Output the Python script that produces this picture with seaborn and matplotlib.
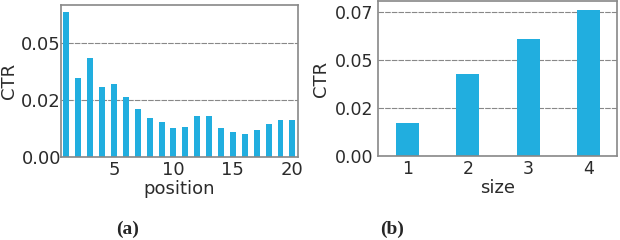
import numpy as np
import pandas as pd
import matplotlib
matplotlib.use("Agg")
import matplotlib.pyplot as plt
import seaborn as sns

# CTR by position
positions = list(range(1, 21))
ctr_position = [0.0632, 0.0344, 0.0432, 0.0305, 0.0318, 0.0262, 0.0209, 0.0170,
                0.0153, 0.0126, 0.0131, 0.0179, 0.0179, 0.0126, 0.0109, 0.0100,
                0.0118, 0.0144, 0.0161, 0.0161]

# CTR by size
sizes = [1, 2, 3, 4]
ctr_size = [0.0171, 0.0431, 0.0612, 0.0763]

yticks_a = [0.0, 0.025, 0.05]
yticklabels_a = ["0.00", "0.02", "0.05"]
yticks_b = [0.0, 0.025, 0.05, 0.075]
yticklabels_b = ["0.00", "0.02", "0.05", "0.07"]
xticks_a = [5, 10, 15, 20]

bar_color = "#21AEDF"
text_color = "#2b2b2b"

sns.set_style("white")
plt.rcParams["font.family"] = ["DejaVu Sans"]

fig = plt.figure(figsize=(6.2, 2.4), dpi=100)
ax1 = fig.add_axes([61 / 620, 1 - 157 / 240, 237 / 620, 152 / 240])
ax2 = fig.add_axes([378 / 620, 1 - 156 / 240, 239 / 620, 155 / 240])

df_pos = pd.DataFrame({"position": positions, "CTR": ctr_position})
df_size = pd.DataFrame({"size": sizes, "CTR": ctr_size})

sns.barplot(data=df_pos, x="position", y="CTR", native_scale=True,
            color=bar_color, saturation=1, width=0.5, linewidth=0, ax=ax1)
sns.barplot(data=df_size, x="size", y="CTR", native_scale=True,
            color=bar_color, saturation=1, width=0.38, linewidth=0, ax=ax2)

def style(ax, yticks, ylabels, fs, ypad, xlab_y, ylab_x):
    ax.set_yticks(yticks)
    ax.set_yticklabels(ylabels)
    ax.yaxis.grid(True, color="#888888", linestyle=(0, (5, 1)), linewidth=0.8)
    ax.set_axisbelow(True)
    for s in ax.spines.values():
        s.set_color("#888888")
        s.set_linewidth(1.2)
    ax.tick_params(axis="both", length=0, labelsize=fs, colors=text_color)
    ax.tick_params(axis="y", pad=ypad)
    ax.tick_params(axis="x", pad=3)
    ax.xaxis.label.set_size(13)
    ax.yaxis.label.set_size(13)
    ax.xaxis.label.set_color(text_color)
    ax.yaxis.label.set_color(text_color)
    ax.xaxis.set_label_coords(0.5, xlab_y)
    ax.yaxis.set_label_coords(ylab_x, 0.5)

style(ax1, yticks_a, yticklabels_a, 13, 0, -0.15, -0.183)
ax1.set_xticks(xticks_a)
ax1.set_xlim(0.55, 20.47)
ax1.set_ylim(0, 0.0664)

style(ax2, yticks_b, yticklabels_b, 12.5, 3, -0.15, -0.2)
ax2.set_xticks(sizes)
ax2.set_xlim(0.51, 4.47)
ax2.set_ylim(0, 0.081)

fig.text(127.5 / 620, 1 - 229 / 240, "(a)", ha="center", va="center",
         fontsize=14, fontweight="bold", family="Liberation Serif")
fig.text(392.5 / 620, 1 - 229 / 240, "(b)", ha="center", va="center",
         fontsize=14, fontweight="bold", family="Liberation Serif")

fig.savefig("out.png", dpi=100)
